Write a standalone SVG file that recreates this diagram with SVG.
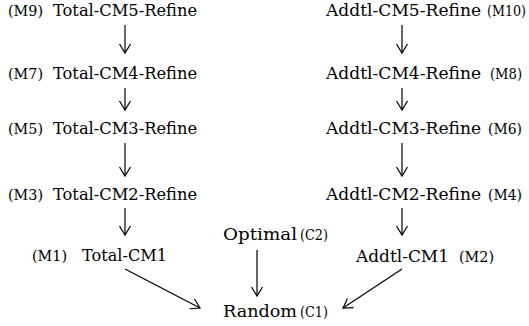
<svg xmlns="http://www.w3.org/2000/svg" width="529" height="326" viewBox="0 0 529 326">
<style>
text{font-family:"DejaVu Serif","Liberation Serif",serif;fill:#000}
.m{font-size:16.5px}
.s{font-size:14px}
.c line{stroke:#000;stroke-width:1.2;fill:none}
</style>
<defs>
<marker id="ah" markerUnits="userSpaceOnUse" viewBox="-12 -7 14 14" markerWidth="14" markerHeight="14" refX="0" refY="0" orient="auto">
<path d="M-9,-5.5 L0,0 L-9,5.5" fill="none" stroke="#000" stroke-width="1.2"/>
</marker>
</defs>
<rect width="529" height="326" fill="#fff"/>
<g id="M9"><text class="s" x="8" y="16" textLength="35" lengthAdjust="spacingAndGlyphs">(M9)</text><text class="m" x="53" y="16" textLength="144" lengthAdjust="spacingAndGlyphs">Total-CM5-Refine</text></g>
<g id="M7"><text class="s" x="8" y="79" textLength="35" lengthAdjust="spacingAndGlyphs">(M7)</text><text class="m" x="53" y="79" textLength="144" lengthAdjust="spacingAndGlyphs">Total-CM4-Refine</text></g>
<g id="M5"><text class="s" x="8" y="134" textLength="35" lengthAdjust="spacingAndGlyphs">(M5)</text><text class="m" x="53" y="134" textLength="144" lengthAdjust="spacingAndGlyphs">Total-CM3-Refine</text></g>
<g id="M3"><text class="s" x="8" y="200" textLength="35" lengthAdjust="spacingAndGlyphs">(M3)</text><text class="m" x="53" y="200" textLength="144" lengthAdjust="spacingAndGlyphs">Total-CM2-Refine</text></g>
<g id="M1"><text class="s" x="32" y="261" textLength="35" lengthAdjust="spacingAndGlyphs">(M1)</text><text class="m" x="82" y="261" textLength="85" lengthAdjust="spacingAndGlyphs">Total-CM1</text></g>
<g id="M10"><text class="m" x="326" y="16" textLength="155" lengthAdjust="spacingAndGlyphs">Addtl-CM5-Refine</text><text class="s" x="487" y="16" textLength="39" lengthAdjust="spacingAndGlyphs">(M10)</text></g>
<g id="M8"><text class="m" x="326" y="79" textLength="155" lengthAdjust="spacingAndGlyphs">Addtl-CM4-Refine</text><text class="s" x="490" y="79" textLength="32" lengthAdjust="spacingAndGlyphs">(M8)</text></g>
<g id="M6"><text class="m" x="326" y="134" textLength="155" lengthAdjust="spacingAndGlyphs">Addtl-CM3-Refine</text><text class="s" x="488" y="134" textLength="34" lengthAdjust="spacingAndGlyphs">(M6)</text></g>
<g id="M4"><text class="m" x="326" y="200" textLength="155" lengthAdjust="spacingAndGlyphs">Addtl-CM2-Refine</text><text class="s" x="488" y="200" textLength="34" lengthAdjust="spacingAndGlyphs">(M4)</text></g>
<g id="M2"><text class="m" x="356" y="262" textLength="93" lengthAdjust="spacingAndGlyphs">Addtl-CM1</text><text class="s" x="459" y="262" textLength="35" lengthAdjust="spacingAndGlyphs">(M2)</text></g>
<g id="C2"><text class="m" x="223" y="240" textLength="74" lengthAdjust="spacingAndGlyphs">Optimal</text><text class="s" x="300" y="240" textLength="28" lengthAdjust="spacingAndGlyphs">(C2)</text></g>
<g id="C1"><text class="m" x="223" y="317" textLength="74" lengthAdjust="spacingAndGlyphs">Random</text><text class="s" x="300" y="317" textLength="28" lengthAdjust="spacingAndGlyphs">(C1)</text></g>
<g id="connectors" class="c">
<line x1="125" y1="25" x2="125" y2="53" marker-end="url(#ah)"/>
<line x1="125" y1="88" x2="125" y2="110" marker-end="url(#ah)"/>
<line x1="125" y1="143" x2="125" y2="176" marker-end="url(#ah)"/>
<line x1="125" y1="208" x2="125" y2="235" marker-end="url(#ah)"/>
<line x1="402" y1="25" x2="402" y2="53" marker-end="url(#ah)"/>
<line x1="402" y1="88" x2="402" y2="110" marker-end="url(#ah)"/>
<line x1="402" y1="143" x2="402" y2="176" marker-end="url(#ah)"/>
<line x1="402" y1="208" x2="402" y2="235" marker-end="url(#ah)"/>
<line x1="257" y1="250" x2="257" y2="296" marker-end="url(#ah)"/>
<line x1="125" y1="269" x2="200" y2="308" marker-end="url(#ah)"/>
<line x1="402" y1="269" x2="343" y2="308" marker-end="url(#ah)"/>
</g>
</svg>
